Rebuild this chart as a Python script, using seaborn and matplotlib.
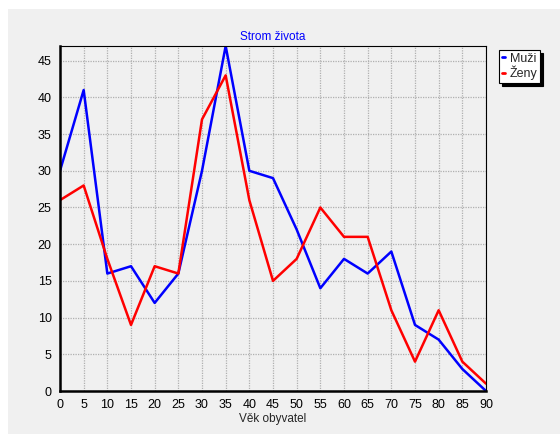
import pandas as pd
import matplotlib.pyplot as plt
import seaborn as sns
from matplotlib.patches import Rectangle
from matplotlib.ticker import MultipleLocator

# Data
ages = [0, 5, 10, 15, 20, 25, 30, 35, 40, 45, 50, 55, 60, 65, 70, 75, 80, 85, 90]
muzi = [30, 41, 16, 17, 12, 16, 30, 47, 30, 29, 22, 14, 18, 16, 19, 9, 7, 3, 0]
zeny = [26, 28, 18, 9, 17, 16, 37, 43, 26, 15, 18, 25, 21, 21, 11, 4, 11, 4, 1]

df = pd.DataFrame({"Věk": ages * 2,
                   "Počet": muzi + zeny,
                   "Pohlaví": ["Muži"] * len(ages) + ["Ženy"] * len(ages)})

sns.set_style("white")
plt.rcParams["font.family"] = ["Liberation Sans", "DejaVu Sans"]

fig = plt.figure(figsize=(5.6, 4.37), dpi=100)
fig.patch.set_facecolor("white")
# gray panel behind the chart
fig.patches.append(Rectangle((8 / 560, 3 / 437), 552 / 560, 425 / 437,
                             transform=fig.transFigure, facecolor="#f0f0f0",
                             edgecolor="none", zorder=-10))

ax = fig.add_axes([60 / 560, 46 / 437, 426 / 560, 345 / 437])
ax.set_facecolor("#f0f0f0")

sns.lineplot(data=df, x="Věk", y="Počet", hue="Pohlaví",
             palette={"Muži": "#0000ff", "Ženy": "#ff0000"},
             linewidth=1.8, ax=ax, legend=True)

ax.set_xlim(0, 90)
ax.set_ylim(0, 47)
ax.xaxis.set_major_locator(MultipleLocator(5))
ax.yaxis.set_major_locator(MultipleLocator(5))
ax.xaxis.set_minor_locator(MultipleLocator(1))
ax.yaxis.set_minor_locator(MultipleLocator(1))
ax.grid(True, which="major", color="#b0b0b0", linestyle=(0, (1, 1)), linewidth=0.9)
ax.tick_params(which="major", direction="out", length=3, width=0.8,
               labelsize=9, pad=3, colors="black")
ax.tick_params(which="minor", direction="in", length=2, width=0.6, color="black")

for side in ["left", "bottom"]:
    ax.spines[side].set_linewidth(1.8)
    ax.spines[side].set_color("black")
for side in ["top", "right"]:
    ax.spines[side].set_linewidth(0.8)
    ax.spines[side].set_color("black")

ax.set_title("Strom života", color="#0000ff", fontsize=8.5, pad=4)
ax.set_xlabel("Věk obyvatel", fontsize=8.5, labelpad=1)
ax.set_ylabel("")

leg = ax.legend(loc="upper left", bbox_to_anchor=(499 / 560, 1 - 50 / 437),
                bbox_transform=fig.transFigure, frameon=True, fancybox=False,
                shadow={"color": "black", "alpha": 1}, fontsize=9,
                handlelength=0.25, handletextpad=0.4, borderpad=0.2,
                labelspacing=0.1, borderaxespad=0)
leg.get_frame().set_edgecolor("black")
leg.get_frame().set_facecolor("white")
leg.get_frame().set_linewidth(0.8)
for line in leg.get_lines():
    line.set_linewidth(2)

plt.savefig("out.png", dpi=100)
